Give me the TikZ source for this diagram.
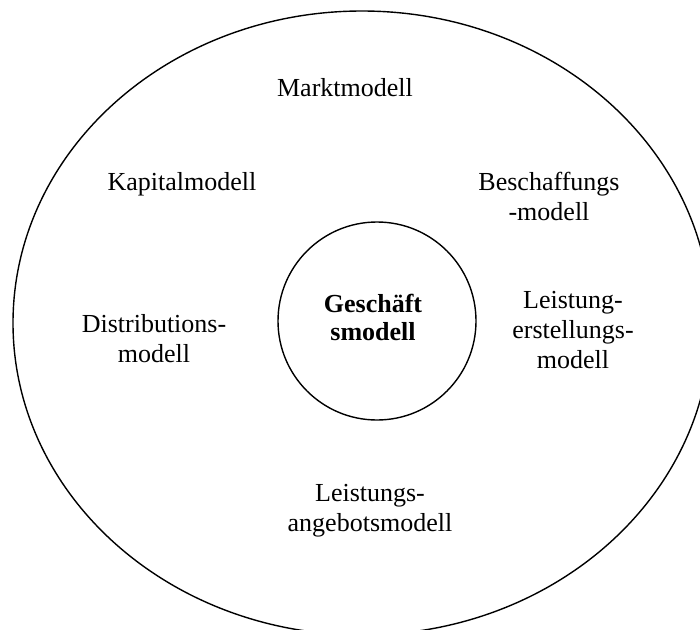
\documentclass[tikz,border=0pt]{standalone}
\usepackage{fontspec}
\setmainfont{Liberation Serif}
\begin{document}
\begin{tikzpicture}[x=1pt,y=-1pt,
  ring/.style={draw=black, line width=1.4pt},
  label/.style={align=center, font=\fontsize{26}{30}\selectfont, inner sep=0pt},
  core/.style={align=center, font=\fontsize{26}{28}\selectfont\bfseries, inner sep=0pt}]
  \useasboundingbox (0,0) rectangle (700,629);
  \clip (0,0) rectangle (700,629);
  \fill[white] (0,0) rectangle (700,629);
  % outer ring and inner core
  \draw[ring] (362,323) ellipse [x radius=349, y radius=312];
  \node[ring, circle, minimum size=198pt, inner sep=0pt] (kern) at (377,321) {};
  \node[core] (gm) at (373,317) {Geschäft\\smodell};
  % surrounding partial models
  \node[label] (markt) at (345,88) {Marktmodell};
  \node[label] (kapital) at (182,184) {Kapitalmodell};
  \node[label] (beschaffung) at (549,196) {Beschaffungs\\-modell};
  \node[label] (distribution) at (154,339) {Distributions-\\modell};
  \node[label] (erstellung) at (573,330) {Leistung-\\erstellungs-\\modell};
  \node[label] (angebot) at (370,511) {Leistungs-\\angebotsmodell};
\end{tikzpicture}
\end{document}
